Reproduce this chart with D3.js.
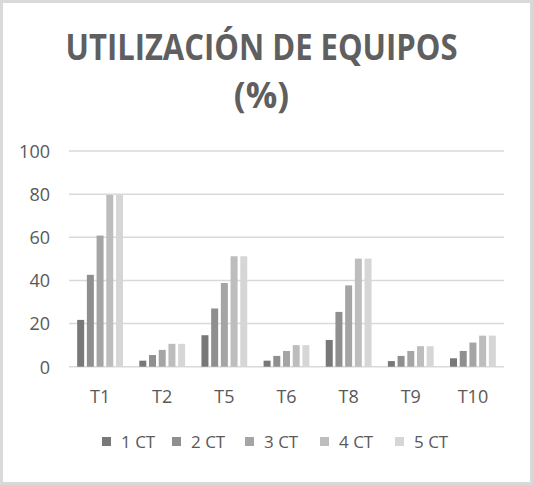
<!DOCTYPE html>
<html>
<head>
<meta charset="utf-8">
<script src="https://cdn.jsdelivr.net/npm/d3@7"></script>
<style>
  html, body { margin: 0; padding: 0; background: #fff; }
  svg { display: block; }
  text { font-family: "Open Sans", sans-serif; fill: #595959; }
</style>
</head>
<body>
<svg id="chart" width="533" height="485"></svg>
<script>
const categories = ["T1", "T2", "T5", "T6", "T8", "T9", "T10"];
const seriesNames = ["1 CT", "2 CT", "3 CT", "4 CT", "5 CT"];
const s1CT = [21.7, 2.8, 14.6, 2.8, 12.4, 2.6, 3.9];
const s2CT = [42.6, 5.4, 27.0, 5.0, 25.4, 5.0, 7.3];
const s3CT = [60.8, 7.8, 38.8, 7.3, 37.7, 7.3, 11.2];
const s4CT = [79.6, 10.6, 51.2, 10.0, 50.1, 9.5, 14.4];
const s5CT = [79.6, 10.6, 51.2, 10.0, 50.1, 9.5, 14.4];
const yTicks = [0, 20, 40, 60, 80, 100];
const colors = ["#787878", "#8f8f8f", "#a5a5a5", "#bdbdbd", "#d6d6d6"];

const seriesValues = [s1CT, s2CT, s3CT, s4CT, s5CT];
const svg = d3.select("#chart");
const W = 533, H = 485;

// border
svg.append("rect").attr("x", 1.5).attr("y", 1.5).attr("width", W - 3).attr("height", H - 3)
  .attr("fill", "#fff").attr("stroke", "#d9d9d9").attr("stroke-width", 3);

// title
const title = svg.append("g");
title.append("text").attr("x", 261.5).attr("y", 60).attr("text-anchor", "middle")
  .attr("font-size", 35).attr("font-weight", 700).style("fill", "#5f5f5f")
  .attr("textLength", 392).attr("lengthAdjust", "spacingAndGlyphs")
  .text("UTILIZACIÓN DE EQUIPOS");
title.append("text").attr("x", 261.5).attr("y", 108).attr("text-anchor", "middle")
  .attr("font-size", 35).attr("font-weight", 700).style("fill", "#5f5f5f")
  .text("(%)");

const plotL = 69, plotR = 504, plotT = 151, plotB = 366.7;
const y = d3.scaleLinear().domain([0, 100]).range([plotB, plotT]);
const x0 = d3.scaleBand().domain(categories).range([plotL, plotR]).paddingInner(0.263).paddingOuter(0.1315);
const x1 = d3.scaleBand().domain(seriesNames).range([0, x0.bandwidth()]).paddingInner(0.28).paddingOuter(0);

// gridlines
svg.append("g").selectAll("line").data(yTicks).join("line")
  .attr("x1", plotL).attr("x2", plotR)
  .attr("y1", d => y(d)).attr("y2", d => y(d))
  .attr("stroke", "#d9d9d9").attr("stroke-width", 1.5);

// y axis labels
const yAxis = d3.axisLeft(y).tickValues(yTicks).tickSize(0).tickPadding(0);
const yG = svg.append("g").attr("transform", `translate(50,0)`).call(yAxis);
yG.select(".domain").remove();
yG.selectAll("text").attr("font-size", 18).attr("fill", "#595959")
  .style("font-family", '"Open Sans", sans-serif').attr("dy", "0.35em");

// bars
const groups = svg.append("g").selectAll("g").data(categories).join("g")
  .attr("transform", d => `translate(${x0(d)},0)`);
groups.selectAll("rect").data((d, i) => seriesNames.map((s, j) => ({ s, v: seriesValues[j][i], j })))
  .join("rect")
  .attr("x", d => x1(d.s)).attr("width", x1.bandwidth())
  .attr("y", d => y(d.v)).attr("height", d => plotB - y(d.v))
  .attr("fill", d => colors[d.j]);

// x axis labels
const xAxis = d3.axisBottom(x0).tickSize(0).tickPadding(0);
const xG = svg.append("g").attr("transform", `translate(0,403)`).call(xAxis);
xG.select(".domain").remove();
xG.selectAll("text").attr("font-size", 18).attr("fill", "#595959")
  .style("font-family", '"Open Sans", sans-serif').attr("dy", 0).attr("y", 0);

// legend
const legendX = [102, 172, 245, 320, 395];
const leg = svg.append("g").selectAll("g").data(seriesNames).join("g")
  .attr("transform", (d, i) => `translate(${legendX[i]},437)`);
leg.append("rect").attr("width", 9).attr("height", 9).attr("fill", (d, i) => colors[i]);
leg.append("text").attr("x", 19).attr("y", 11).attr("font-size", 17).text(d => d);
</script>
</body>
</html>
